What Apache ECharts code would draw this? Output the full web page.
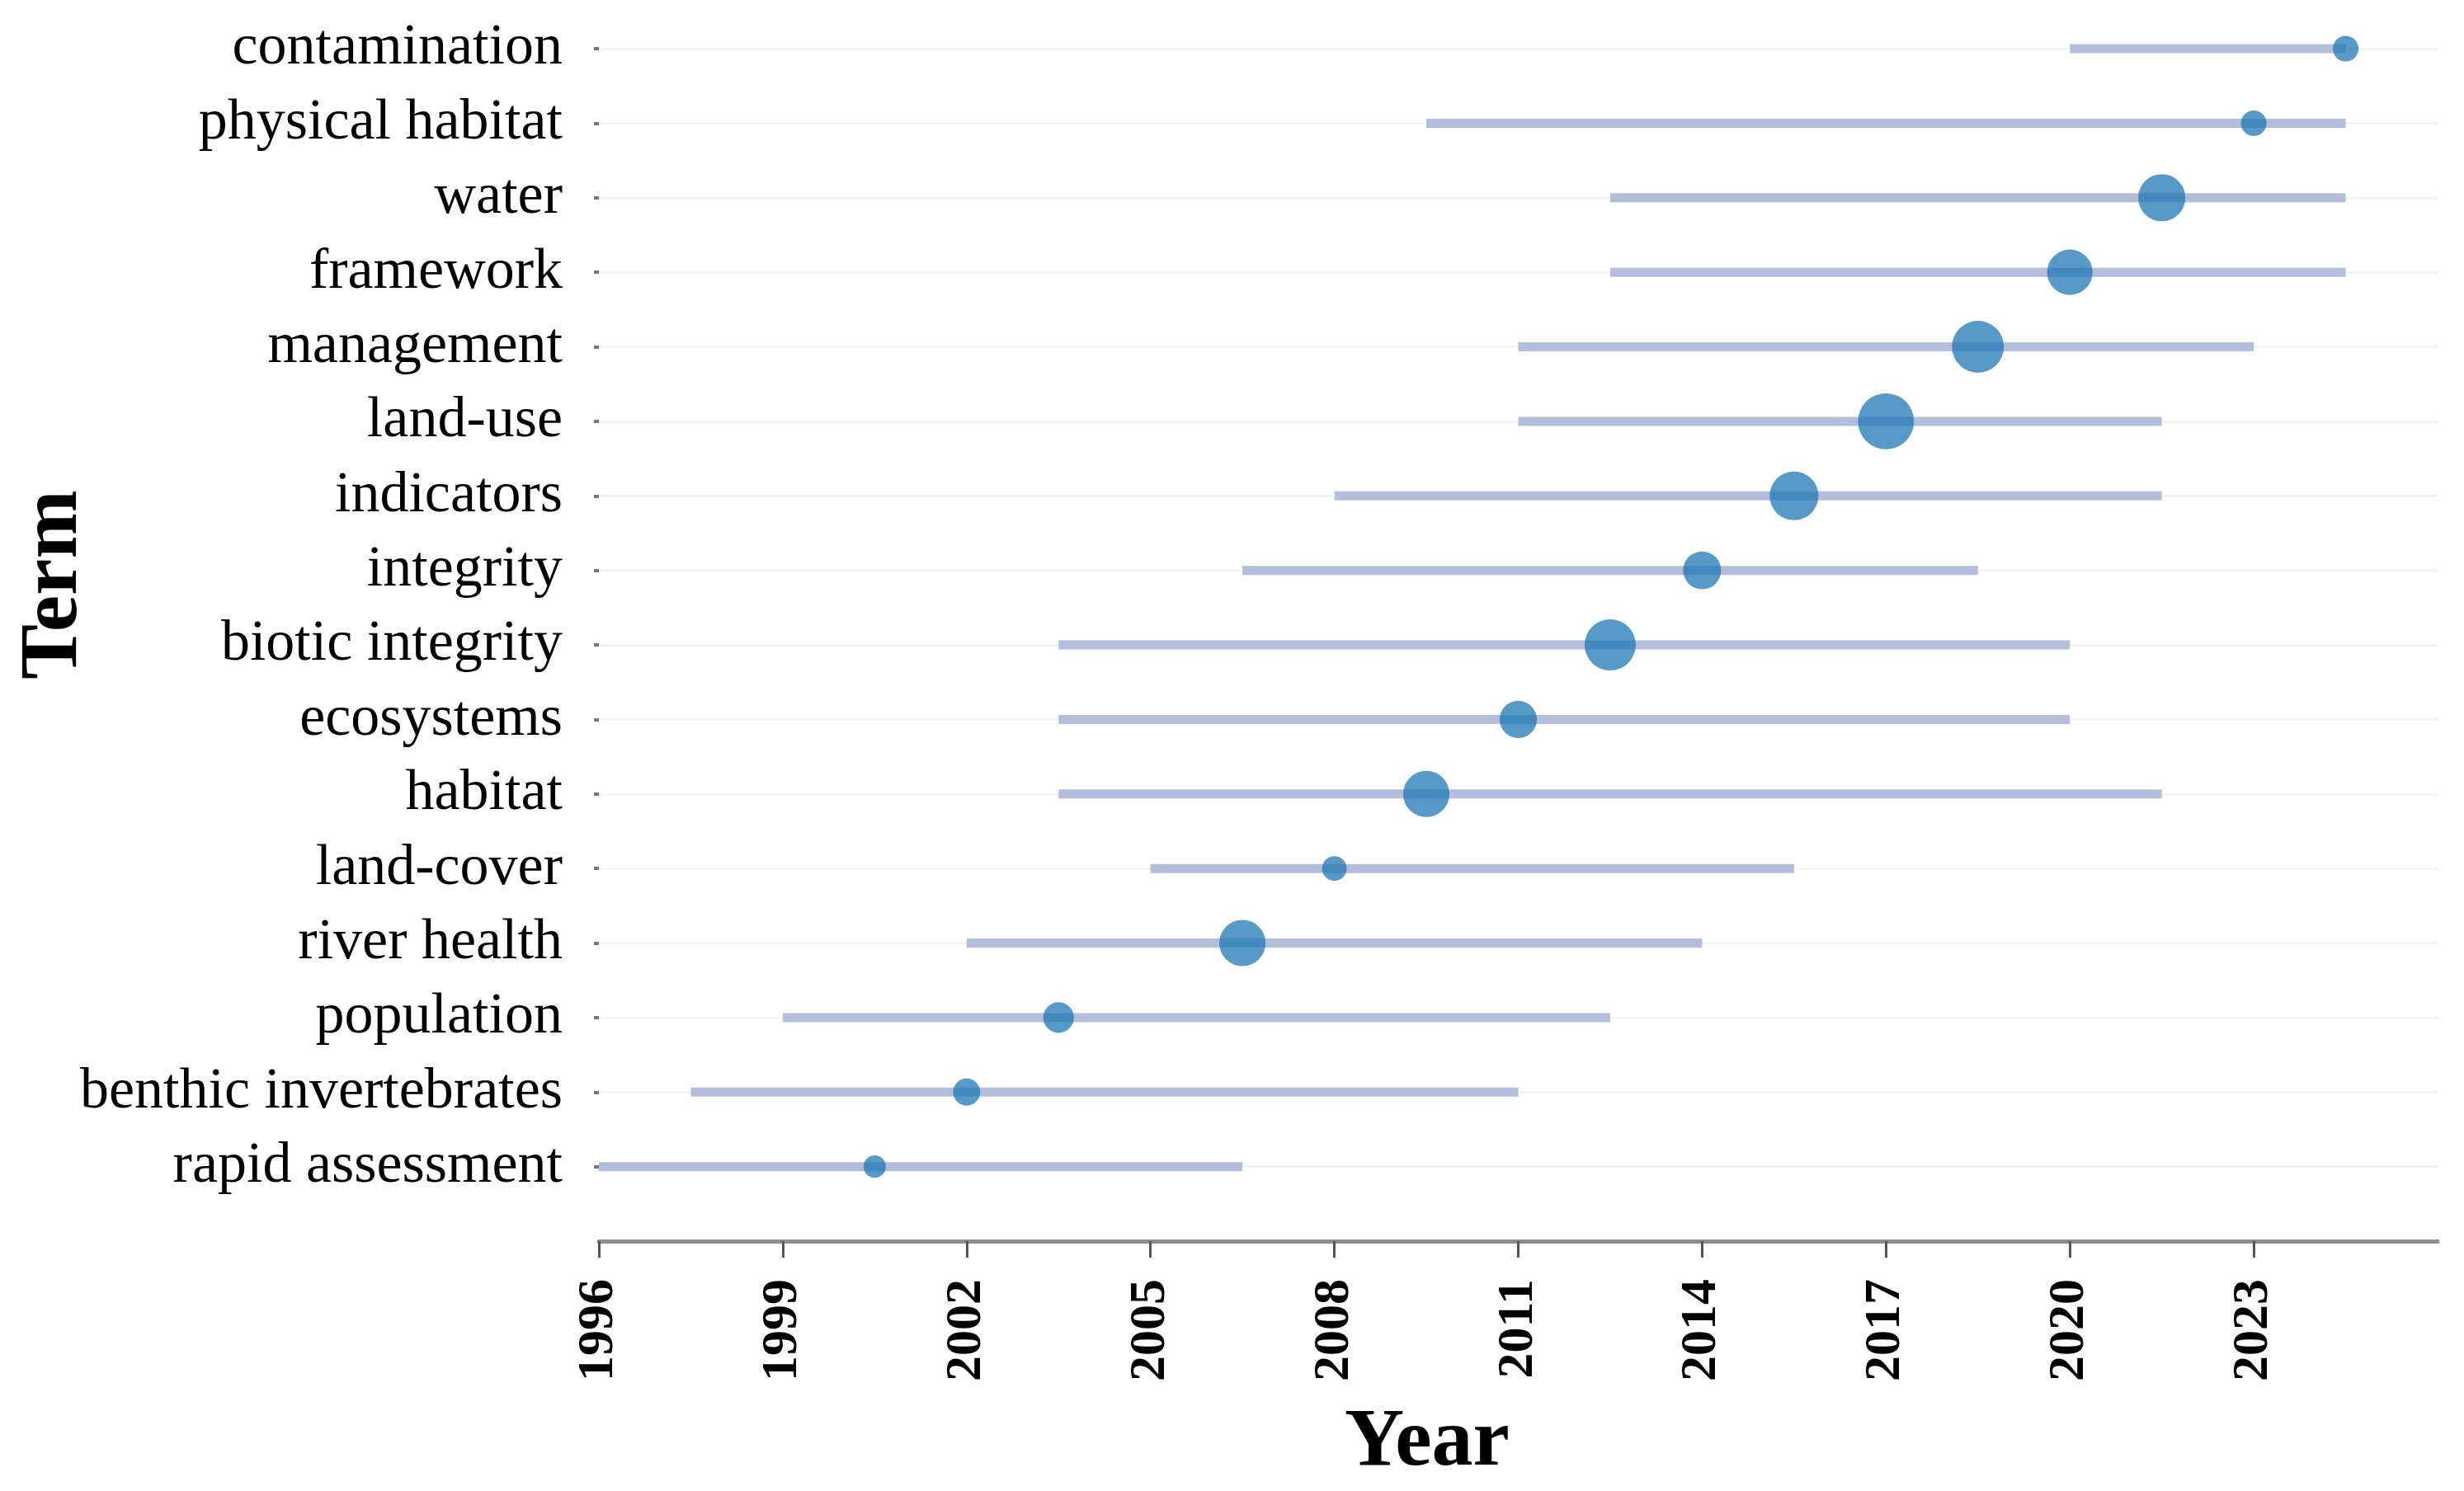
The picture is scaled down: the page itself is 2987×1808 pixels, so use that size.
<!DOCTYPE html>
<html>
<head>
<meta charset="utf-8">
<script src="https://cdn.jsdelivr.net/npm/echarts@6/dist/echarts.min.js"></script>
<style>
html, body { margin: 0; padding: 0; background: #ffffff; }
#chart { width: 2987px; height: 1808px; }
</style>
</head>
<body>
<div id="chart"></div>
<script>
// Terms listed top to bottom as in the figure
const terms = ['contamination', 'physical habitat', 'water', 'framework', 'management', 'land-use',
  'indicators', 'integrity', 'biotic integrity', 'ecosystems', 'habitat', 'land-cover',
  'river health', 'population', 'benthic invertebrates', 'rapid assessment'];
const startYear = [2020, 2009.5, 2012.5, 2012.5, 2011, 2011, 2008, 2006.5, 2003.5, 2003.5, 2003.5, 2005, 2002, 1999, 1997.5, 1996];
const endYear = [2024.5, 2024.5, 2024.5, 2024.5, 2023, 2021.5, 2021.5, 2018.5, 2020, 2020, 2021.5, 2015.5, 2014, 2012.5, 2011, 2006.5];
const peakYear = [2024.5, 2023, 2021.5, 2020, 2018.5, 2017, 2015.5, 2014, 2012.5, 2011, 2009.5, 2008, 2006.5, 2003.5, 2002, 2000.5];
const frequency = [25, 25, 85, 79, 103, 120, 91, 55, 100, 53, 82, 23, 82, 36, 28, 19];
const yearTicks = [1996, 1999, 2002, 2005, 2008, 2011, 2014, 2017, 2020, 2023];

const FONT = "'Liberation Serif', 'Times New Roman', serif";
// category axis bottom-to-top, with an empty slot at the axis line
const yCats = [''].concat(terms.slice().reverse());
const rowIndex = (i) => terms.length - i;

const rangeData = terms.map((t, i) => [startYear[i], endYear[i], rowIndex(i)]);
const peakData = terms.map((t, i) => [peakYear[i], rowIndex(i), frequency[i]]);

const chart = echarts.init(document.getElementById('chart'), null, { renderer: 'canvas' });
chart.setOption({
  animation: false,
  backgroundColor: '#ffffff',
  grid: { left: 726, right: 32, top: 59, bottom: 303, containLabel: false },
  xAxis: {
    type: 'value',
    min: 1996,
    max: 2026,
    interval: 3,
    axisLine: { show: true, lineStyle: { color: '#8c8c8c', width: 5 } },
    axisTick: { show: true, customValues: yearTicks, length: 20, lineStyle: { color: '#555555', width: 3 } },
    axisLabel: {
      customValues: yearTicks,
      formatter: function (v) { return String(v); },
      rotate: 90,
      margin: 46,
      fontFamily: FONT,
      fontWeight: 'bold',
      fontSize: 62,
      color: '#000000'
    },
    splitLine: { show: false }
  },
  yAxis: {
    type: 'category',
    data: yCats,
    boundaryGap: false,
    axisLine: { show: false },
    axisTick: {
      show: true,
      length: 6,
      interval: function (idx, val) { return val !== ''; },
      lineStyle: { color: '#777777', width: 4 }
    },
    axisLabel: { interval: 0, fontFamily: FONT, fontSize: 70, color: '#000000', margin: 44 },
    splitLine: { show: true, interval: 0, lineStyle: { color: '#f3f3f3', width: 3 } }
  },
  graphic: [
    {
      type: 'text',
      x: 66, y: 709,
      rotation: Math.PI / 2,
      style: { text: 'Term', fontFamily: FONT, fontWeight: 'bold', fontSize: 100, fill: '#000000', align: 'center', verticalAlign: 'middle' }
    },
    {
      type: 'text',
      x: 1730, y: 1750,
      style: { text: 'Year', fontFamily: FONT, fontWeight: 'bold', fontSize: 100, fill: '#000000', align: 'center', verticalAlign: 'middle' }
    }
  ],
  series: [
    {
      type: 'custom',
      name: 'range',
      clip: false,
      encode: { x: [0, 1], y: 2 },
      data: rangeData,
      renderItem: function (params, api) {
        const p1 = api.coord([api.value(0), api.value(2)]);
        const p2 = api.coord([api.value(1), api.value(2)]);
        return {
          type: 'line',
          shape: { x1: p1[0], y1: p1[1], x2: p2[0], y2: p2[1] },
          style: { stroke: '#b3bedc', lineWidth: 11, lineCap: 'butt' }
        };
      },
      z: 2
    },
    {
      type: 'scatter',
      name: 'peak',
      clip: false,
      data: peakData,
      symbol: 'circle',
      symbolSize: function (v) { return Math.sqrt(v[2]) * 6.2; },
      itemStyle: { color: '#1f77b4', opacity: 0.75 },
      z: 3
    }
  ]
});
</script>
</body>
</html>
